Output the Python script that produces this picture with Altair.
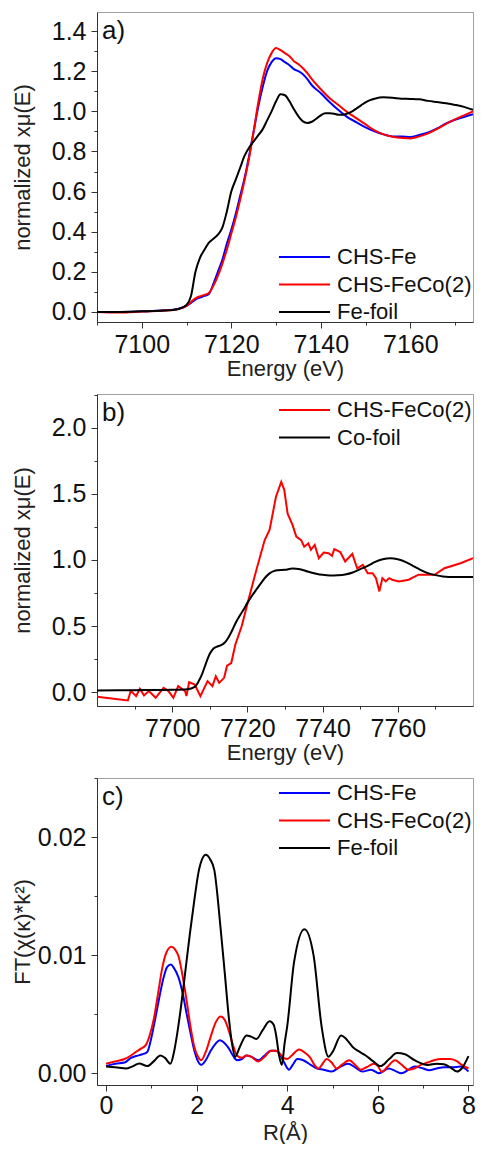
import altair as alt
import pandas as pd

FONT = "Liberation Sans"

# ---------------- panel a: Fe K-edge XANES ----------------
a_E = [7090, 7095, 7100, 7105, 7108, 7110, 7111, 7112, 7113, 7114, 7115, 7116, 7117, 7118,
       7119, 7120, 7121, 7122, 7123, 7124, 7125, 7126, 7127, 7128, 7129, 7130, 7131, 7132,
       7133, 7134, 7135, 7136, 7137, 7138, 7140, 7142, 7144, 7146, 7148, 7150, 7152, 7154,
       7156, 7158, 7160, 7162, 7164, 7166, 7168, 7170, 7172, 7174]
a_chs_fe = [0.0, 0.0, 0.003, 0.008, 0.015, 0.03, 0.045, 0.062, 0.072, 0.08, 0.09, 0.14, 0.2,
            0.26, 0.34, 0.41, 0.49, 0.58, 0.67, 0.78, 0.9, 1.02, 1.12, 1.2, 1.245, 1.265, 1.26,
            1.245, 1.23, 1.21, 1.2, 1.185, 1.16, 1.13, 1.09, 1.045, 1.005, 0.97, 0.945, 0.92,
            0.9, 0.885, 0.875, 0.875, 0.872, 0.882, 0.895, 0.915, 0.94, 0.958, 0.972, 0.985]
a_chs_feco = [0.0, -0.003, 0.002, 0.007, 0.014, 0.03, 0.05, 0.068, 0.078, 0.085, 0.095, 0.13,
              0.18, 0.24, 0.31, 0.39, 0.47, 0.56, 0.66, 0.77, 0.9, 1.04, 1.16, 1.24, 1.29,
              1.315, 1.305, 1.29, 1.275, 1.25, 1.235, 1.215, 1.19, 1.16, 1.11, 1.065, 1.03,
              0.995, 0.965, 0.935, 0.905, 0.885, 0.873, 0.868, 0.865, 0.875, 0.89, 0.912,
              0.938, 0.96, 0.98, 1.0]
a_foil_E = [7090, 7095, 7100, 7105, 7108, 7109, 7110, 7111, 7112, 7113, 7114, 7115, 7116, 7117,
            7118, 7119, 7120, 7121, 7122, 7123, 7124, 7125, 7126, 7127, 7128, 7129, 7130, 7131,
            7132, 7133, 7134, 7135, 7136, 7137, 7138, 7139, 7140, 7141, 7142, 7143, 7144, 7145,
            7146, 7147, 7148, 7149, 7150, 7151, 7152, 7154, 7156, 7158, 7160, 7162, 7164, 7166,
            7168, 7170, 7172, 7174]
a_fe_foil = [0.0, 0.0, 0.003, 0.007, 0.014, 0.022, 0.035, 0.08, 0.2, 0.27, 0.31, 0.345, 0.365,
             0.385, 0.42, 0.5, 0.6, 0.66, 0.72, 0.78, 0.82, 0.85, 0.88, 0.91, 0.955, 1.0, 1.05,
             1.085, 1.08, 1.05, 1.01, 0.975, 0.95, 0.942, 0.948, 0.963, 0.98, 0.99, 0.99, 0.988,
             0.983, 0.983, 0.99, 1.0, 1.015, 1.03, 1.045, 1.056, 1.063, 1.07, 1.068, 1.063,
             1.062, 1.06, 1.052, 1.046, 1.04, 1.032, 1.022, 1.007]

# ---------------- panel b: Co K-edge XANES ----------------
b_foil_E = [7680, 7690, 7700, 7704, 7706, 7707, 7708, 7709, 7710, 7711, 7712, 7713, 7714, 7715,
            7716, 7717, 7718, 7719, 7720, 7721, 7722, 7723, 7724, 7725, 7726, 7727, 7728, 7730,
            7732, 7734, 7736, 7738, 7740, 7742, 7744, 7746, 7748, 7750, 7752, 7754, 7756, 7758,
            7760, 7762, 7764, 7766, 7768, 7770, 7772, 7775, 7780]
b_co_foil = [0.013, 0.015, 0.018, 0.022, 0.04, 0.08, 0.14, 0.22, 0.29, 0.33, 0.345, 0.355,
             0.375, 0.415, 0.47, 0.53, 0.58, 0.625, 0.675, 0.72, 0.76, 0.8, 0.84, 0.875, 0.9,
             0.915, 0.922, 0.925, 0.935, 0.93, 0.912, 0.898, 0.887, 0.882, 0.884, 0.89, 0.905,
             0.93, 0.955, 0.985, 1.005, 1.013, 1.005, 0.985, 0.955, 0.925, 0.9, 0.885, 0.875,
             0.87, 0.87]
b_feco_E = [7680, 7688.2, 7689, 7690.4, 7691.4, 7692.5, 7693.8, 7695.6, 7697.7, 7699, 7700.3,
            7701.6, 7703.4, 7703.8, 7704.5, 7706, 7707.5, 7709.4, 7710.7, 7711.6, 7712.5,
            7713.8, 7714.6, 7715.7, 7716.8, 7718.5, 7720.3, 7722.4, 7724.6, 7725.9, 7727.6,
            7729, 7729.8, 7730.7, 7732, 7733, 7734.3, 7735.1, 7736.2, 7736.9, 7737.9, 7739,
            7740.3, 7741.6, 7742.5, 7743.1, 7744.7, 7746, 7747.9, 7749.2, 7750.7, 7752, 7753.3,
            7754.2, 7755.1, 7755.9, 7756.8, 7757.7, 7758.5, 7760.3, 7762.9, 7765.5, 7769.8,
            7772.4, 7776.7, 7780]
b_chs_feco = [-0.035, -0.063, 0.01, -0.03, 0.025, -0.025, 0.008, -0.043, 0.032, 0.008, -0.043,
              0.045, 0.008, -0.03, 0.075, 0.058, -0.03, 0.083, 0.045, 0.12, 0.07, 0.108, 0.2,
              0.22, 0.36, 0.5, 0.7, 0.925, 1.15, 1.227, 1.478, 1.59, 1.53, 1.35, 1.265, 1.176,
              1.15, 1.10, 1.125, 1.076, 1.113, 1.013, 1.056, 1.05, 1.03, 1.081, 1.06, 0.988,
              1.046, 0.937, 0.963, 0.9, 0.9, 0.862, 0.762, 0.862, 0.837, 0.862, 0.85, 0.837,
              0.85, 0.888, 0.888, 0.937, 0.975, 1.013]

# ---------------- panel c: Fourier transforms ----------------
c_foil_R = [0, 0.2, 0.45, 0.6, 0.73, 0.91, 1.05, 1.2, 1.3, 1.42, 1.5, 1.56, 1.65, 1.74, 1.85,
            1.95, 2.05, 2.2, 2.3, 2.39, 2.53, 2.62, 2.71, 2.78, 2.85, 2.95, 3.1, 3.2, 3.32,
            3.45, 3.61, 3.7, 3.75, 3.82, 3.88, 3.94, 4.0, 4.15, 4.38, 4.58, 4.76, 4.91, 5.0,
            5.19, 5.3, 5.45, 5.6, 5.73, 5.9, 6.06, 6.25, 6.42, 6.6, 6.81, 7.1, 7.3, 7.46, 7.6,
            7.75, 7.85, 8.0]
c_fe_foil = [0.00056, 0.0005, 0.0004, 0.0006, 0.00083, 0.0006, 0.001, 0.0015, 0.0013, 0.0008,
             0.0018, 0.0031, 0.0055, 0.0083, 0.0118, 0.0147, 0.0172, 0.0185, 0.0181, 0.0172,
             0.0122, 0.0085, 0.0047, 0.0025, 0.0014, 0.0022, 0.0032, 0.0031, 0.0029, 0.0036,
             0.0044, 0.0041, 0.0033, 0.0015, 0.0007, 0.0025, 0.004, 0.0094, 0.0122, 0.01,
             0.0039, 0.0014, 0.0018, 0.0032, 0.0029, 0.0022, 0.0018, 0.0015, 0.001, 0.0006,
             0.0012, 0.0017, 0.0016, 0.0011, 0.0007, 0.0008, 0.00075, 0.0005, 0.00014, 0.0004,
             0.00145]
c_fe_R = [0, 0.2, 0.41, 0.55, 0.66, 0.8, 0.91, 1.0, 1.09, 1.18, 1.27, 1.35, 1.43, 1.5, 1.6,
          1.7, 1.78, 1.87, 1.95, 2.03, 2.1, 2.2, 2.31, 2.42, 2.51, 2.6, 2.71, 2.8, 2.89, 3.0,
          3.1, 3.2, 3.36, 3.5, 3.64, 3.75, 3.82, 3.92, 4.04, 4.12, 4.22, 4.35, 4.48, 4.66, 4.8,
          4.98, 5.15, 5.34, 5.5, 5.66, 5.85, 6.02, 6.24, 6.38, 6.52, 6.68, 6.81, 7.0, 7.13,
          7.3, 7.46, 7.65, 7.82, 7.92, 8.0]
c_chs_fe = [0.0006, 0.0008, 0.0009, 0.0013, 0.00145, 0.0016, 0.0018, 0.003, 0.0047, 0.0065,
            0.0081, 0.009, 0.0092, 0.0089, 0.0081, 0.0066, 0.005, 0.0033, 0.0019, 0.001, 0.0007,
            0.0011, 0.0019, 0.0025, 0.0028, 0.0026, 0.0021, 0.0015, 0.0011, 0.0012, 0.0015,
            0.0014, 0.0011, 0.0015, 0.0019, 0.0019, 0.0017, 0.001, 0.0003, 0.0007, 0.0012,
            0.0011, 0.0008, 0.0004, 0.0003, 0.00014, 0.0005, 0.0008, 0.0005, 0.00014, 0.0003,
            0.0, 0.0004, 0.0002, 0.0, 0.0003, 0.00056, 0.0004, 0.00025, 0.0004, 0.0005, 0.0005,
            0.00056, 0.0004, 0.00014]
c_feco_R = [0, 0.2, 0.41, 0.55, 0.66, 0.78, 0.88, 0.97, 1.06, 1.15, 1.24, 1.33, 1.44, 1.52,
            1.6, 1.7, 1.78, 1.87, 1.95, 2.03, 2.1, 2.2, 2.31, 2.42, 2.53, 2.62, 2.71, 2.8, 2.89,
            3.0, 3.1, 3.2, 3.36, 3.5, 3.64, 3.75, 3.82, 3.92, 4.0, 4.1, 4.26, 4.4, 4.51, 4.6,
            4.69, 4.78, 4.87, 4.98, 5.09, 5.2, 5.37, 5.5, 5.62, 5.75, 5.91, 6.0, 6.09, 6.2,
            6.38, 6.5, 6.67, 6.8, 6.95, 7.1, 7.24, 7.4, 7.6, 7.75, 7.85, 8.0]
c_chs_feco = [0.0008, 0.001, 0.0012, 0.0015, 0.0018, 0.0021, 0.0024, 0.0033, 0.0047, 0.0068,
              0.0089, 0.0102, 0.0107, 0.0105, 0.0099, 0.008, 0.0061, 0.0038, 0.0022, 0.0014,
              0.0011, 0.0018, 0.0031, 0.0043, 0.0048, 0.0045, 0.0036, 0.0024, 0.0015, 0.0013,
              0.0015, 0.0014, 0.001, 0.0014, 0.0019, 0.0019, 0.0017, 0.0013, 0.0012, 0.0015,
              0.002, 0.0017, 0.0013, 0.0007, 0.0004, 0.0008, 0.0012, 0.0009, 0.0004, 0.0007,
              0.0011, 0.0007, 0.0003, 0.0005, 0.0008, 0.0006, 0.0001, 0.0005, 0.0011, 0.0008,
              0.0003, 0.0004, 0.0007, 0.0009, 0.0011, 0.0012, 0.0012, 0.001, 0.0007, 0.0004]

# axis ticks
a_x_major = [7100, 7120, 7140, 7160]
a_x_minor = [7090, 7110, 7130, 7150, 7170]
a_y_major = [0.0, 0.2, 0.4, 0.6, 0.8, 1.0, 1.2, 1.4]
a_y_minor = [0.1, 0.3, 0.5, 0.7, 0.9, 1.1, 1.3]
b_x_major = [7700, 7720, 7740, 7760]
b_x_minor = [7690, 7710, 7730, 7750, 7770]
b_y_major = [0.0, 0.5, 1.0, 1.5, 2.0]
b_y_minor = [0.25, 0.75, 1.25, 1.75, 2.25]
c_x_major = [0, 2, 4, 6, 8]
c_x_minor = [1, 3, 5, 7]
c_y_major = [0.0, 0.01, 0.02]
c_y_minor = [0.005, 0.015, 0.025]

BLUE, RED, BLACK = "#0000ff", "#ff0000", "#000000"
ROW = 27.5   # legend row pitch
W = 376      # plot width


def long_df(parts):
    rows = []
    for name, xs, ys in parts:
        for i, (xv, yv) in enumerate(zip(xs, ys)):
            rows.append({"x": xv, "y": yv, "series": name, "i": i})
    return pd.DataFrame(rows)


def panel(parts, colors, xdom, ydom, xmaj, xmin, ymaj, ymin, xfmt, yfmt,
          xtitle, ytitle, tag, height, legend_y, interp, title_y=53, label_pad=4):
    df = long_df(parts)
    names = [p[0] for p in parts]
    xs = alt.Scale(domain=xdom, nice=False, zero=False)
    ys = alt.Scale(domain=ydom, nice=False, zero=False)
    x_axis = alt.Axis(values=xmaj, format=xfmt, tickSize=6, labelPadding=label_pad,
                      title=xtitle, titleY=title_y, titleBaseline="alphabetic",
                      labelFont=FONT, labelFontSize=25, labelColor="#111",
                      titleFont=FONT, titleFontSize=22, titleFontWeight="normal",
                      titleColor="#222")
    y_axis = alt.Axis(values=ymaj, format=yfmt, tickSize=6, labelPadding=5,
                      title=ytitle, titleX=-75, titleY=height / 2, titleAngle=270,
                      titleAlign="center", titleBaseline="middle",
                      labelFont=FONT, labelFontSize=25, labelColor="#111",
                      titleFont=FONT, titleFontSize=22, titleFontWeight="normal",
                      titleColor="#222")
    layers = []
    for name, col, it in zip(names, colors, interp):
        sub = df[df.series == name]
        layers.append(
            alt.Chart(sub).mark_line(strokeWidth=2, interpolate=it, color=col,
                                     clip=True).encode(
                x=alt.X("x:Q", scale=xs, axis=x_axis),
                y=alt.Y("y:Q", scale=ys, axis=y_axis),
                order="i:Q",
            )
        )
    lines = alt.layer(*layers)
    minor = alt.Chart(df).mark_point(opacity=0, size=1, clip=True).encode(
        x=alt.X("x:Q", scale=xs, axis=alt.Axis(values=xmin, labels=False, tickSize=3,
                                                title=None, domain=False, orient="bottom")),
        y=alt.Y("y:Q", scale=ys, axis=alt.Axis(values=ymin, labels=False, tickSize=3,
                                                title=None, domain=False, orient="left")),
    )
    # legend (key lines + labels inside the plot)
    leg = []
    for k, (name, col) in enumerate(zip(names, colors)):
        one = alt.Chart(pd.DataFrame({"name": [name]}))
        yk = legend_y + k * ROW
        leg.append(one.mark_rule(color=col, strokeWidth=2).encode(
            x=alt.value(W - 194), x2=alt.value(W - 143), y=alt.value(yk)))
        leg.append(one.mark_text(font=FONT, fontSize=22, align="left", baseline="middle",
                                 color="#111").encode(
            text="name:N", x=alt.value(W - 136), y=alt.value(yk)))
    tagc = alt.Chart(pd.DataFrame({"t": [tag]})).mark_text(
        font=FONT, fontSize=26, align="left", baseline="middle", color="#111"
    ).encode(text="t:N", x=alt.value(5), y=alt.value(19))
    return alt.layer(lines, minor, tagc, *leg).resolve_axis(
        x="independent", y="independent").properties(width=W, height=height)


pa = panel([("CHS-Fe", a_E, a_chs_fe), ("CHS-FeCo(2)", a_E, a_chs_feco),
            ("Fe-foil", a_foil_E, a_fe_foil)], [BLUE, RED, BLACK],
           [7090, 7174], [-0.05, 1.495], a_x_major, a_x_minor, a_y_major, a_y_minor,
           "d", ".1f", "Energy (eV)", "normalized xμ(E)", "a)", 310, 245,
           ["monotone", "monotone", "monotone"])
pb = panel([("CHS-FeCo(2)", b_feco_E, b_chs_feco), ("Co-foil", b_foil_E, b_co_foil)],
           [RED, BLACK], [7680, 7780], [-0.105, 2.255], b_x_major, b_x_minor, b_y_major,
           b_y_minor, "d", ".1f", "Energy (eV)", "normalized xμ(E)", "b)", 312, 16,
           ["linear", "monotone"])
pc = panel([("CHS-Fe", c_fe_R, c_chs_fe), ("CHS-FeCo(2)", c_feco_R, c_chs_feco),
            ("Fe-foil", c_foil_R, c_fe_foil)], [BLUE, RED, BLACK],
           [-0.2, 8.1], [-0.001, 0.025], c_x_major, c_x_minor, c_y_major, c_y_minor,
           "d", ".2f", "R(Å)", "FT(χ(κ)*k²)", "c)", 307, 15,
           ["monotone", "monotone", "monotone"], title_y=54, label_pad=2)

chart = alt.vconcat(pa, pb, pc, spacing=72, bounds="flush").properties(
    padding={"left": 2, "top": 3, "right": 0, "bottom": 0}, background="white"
).configure_view(stroke="#a0a0a0", strokeWidth=1).configure_axis(
    grid=False, domainColor="#333", domainWidth=1, tickColor="#333", tickWidth=1
)

chart.save("out.html", embed_options={"renderer": "svg", "actions": False})
